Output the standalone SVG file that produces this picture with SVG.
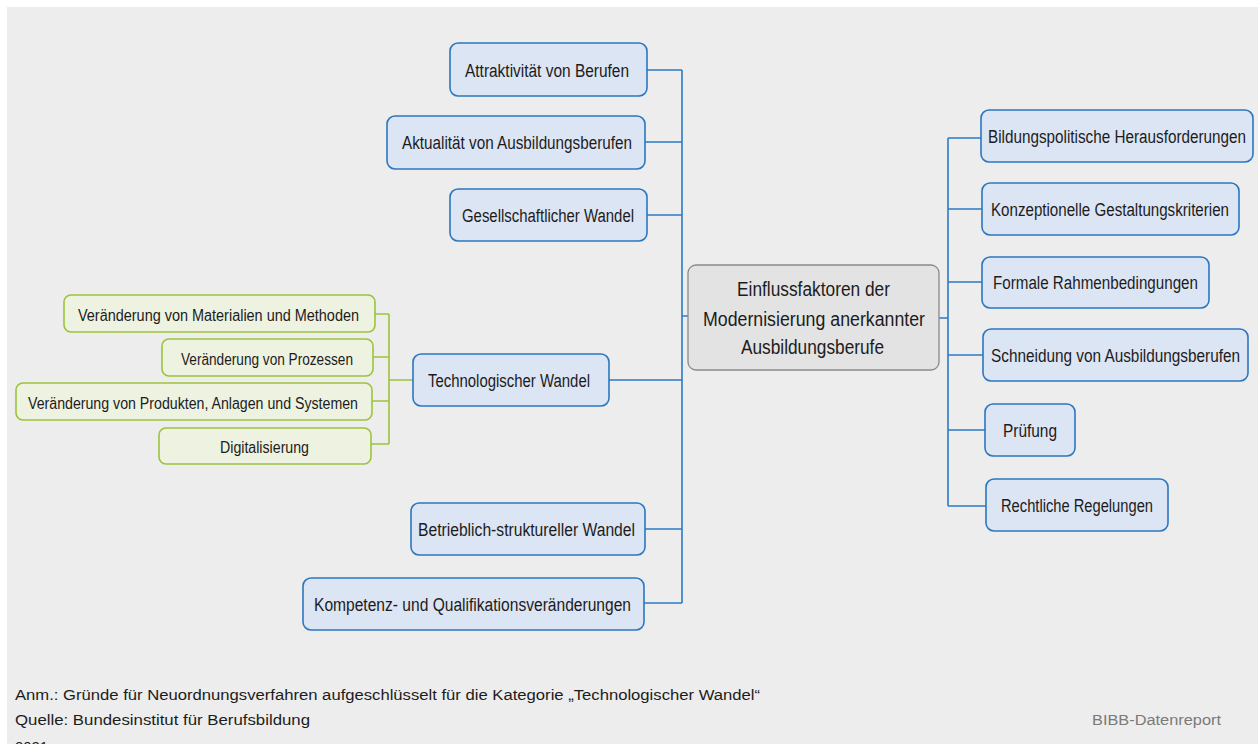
<svg xmlns="http://www.w3.org/2000/svg" width="1259" height="744" viewBox="0 0 1259 744">
  <style>
    text { font-family: "Liberation Sans", Arial, sans-serif; fill: #1c1c1c; }
    .blue rect { fill: #dce5f4; stroke: #2b77c0; stroke-width: 1.6; }
    .green rect { fill: #eef2e1; stroke: #9cc23c; stroke-width: 1.6; }
    .center rect { fill: #e3e3e3; stroke: #8a8a8a; stroke-width: 1.3; }
    .blue text { font-size: 18px; text-anchor: middle; }
    .green text { font-size: 16px; text-anchor: middle; }
    .center text { font-size: 20px; text-anchor: middle; }
    .link-blue { stroke: #2b7ac3; stroke-width: 1.6; fill: none; }
    .link-green { stroke: #9cc23c; stroke-width: 1.6; fill: none; }
    .note { font-size: 15.5px; }
  </style>

  <rect x="0" y="0" width="1259" height="744" fill="#ffffff"/>
  <rect x="7" y="7" width="1251" height="737" fill="#ededed"/>

  <!-- connectors -->
  <g id="connectors">
    <path class="link-blue" d="M647 70 H682 M645 142 H682 M647 215 H682 M609 380 H682 M645 529 H682 M644 603 H682 M682 70 V603 M682 316 H688"/>
    <path class="link-blue" d="M939 318 H948 M948 138 V506 M948 138 H981 M948 209 H982 M948 282 H982 M948 355 H983 M948 430 H985 M948 506 H986"/>
    <path class="link-green" d="M375 314 H389 M373 357 H389 M372 401 H389 M371 444 H389 M389 314 V444 M389 380 H413"/>
  </g>

  <!-- central node -->
  <g id="n-center" class="center">
    <rect x="688" y="265" width="251" height="105" rx="8"/>
    <text x="813.5" y="296" textLength="153" lengthAdjust="spacingAndGlyphs">Einflussfaktoren der</text>
    <text x="814" y="326" textLength="222" lengthAdjust="spacingAndGlyphs">Modernisierung anerkannter</text>
    <text x="812.5" y="354" textLength="143" lengthAdjust="spacingAndGlyphs">Ausbildungsberufe</text>
  </g>

  <!-- left branch -->
  <g id="n-attraktivitaet" class="blue">
    <rect x="450" y="43" width="197" height="53" rx="8"/>
    <text x="547" y="77" textLength="164" lengthAdjust="spacingAndGlyphs">Attraktivität von Berufen</text>
  </g>
  <g id="n-aktualitaet" class="blue">
    <rect x="387" y="116" width="258" height="53" rx="8"/>
    <text x="517" y="149" textLength="230" lengthAdjust="spacingAndGlyphs">Aktualität von Ausbildungsberufen</text>
  </g>
  <g id="n-gesellschaft" class="blue">
    <rect x="450" y="189" width="197" height="52" rx="8"/>
    <text x="548" y="222" textLength="172" lengthAdjust="spacingAndGlyphs">Gesellschaftlicher Wandel</text>
  </g>
  <g id="n-technologie" class="blue">
    <rect x="413" y="354" width="196" height="52" rx="8"/>
    <text x="509" y="387" textLength="162" lengthAdjust="spacingAndGlyphs">Technologischer Wandel</text>
  </g>
  <g id="n-betrieb" class="blue">
    <rect x="411" y="503" width="234" height="52" rx="8"/>
    <text x="526.5" y="536" textLength="217" lengthAdjust="spacingAndGlyphs">Betrieblich-struktureller Wandel</text>
  </g>
  <g id="n-kompetenz" class="blue">
    <rect x="303" y="578" width="341" height="52" rx="8"/>
    <text x="472.5" y="611" textLength="317" lengthAdjust="spacingAndGlyphs">Kompetenz- und Qualifikationsveränderungen</text>
  </g>

  <!-- technological sub-factors -->
  <g id="n-materialien" class="green">
    <rect x="64" y="295" width="311" height="37" rx="7"/>
    <text x="218.5" y="321" textLength="281" lengthAdjust="spacingAndGlyphs">Veränderung von Materialien und Methoden</text>
  </g>
  <g id="n-prozesse" class="green">
    <rect x="162" y="339" width="211" height="37" rx="7"/>
    <text x="267" y="365" textLength="172" lengthAdjust="spacingAndGlyphs">Veränderung von Prozessen</text>
  </g>
  <g id="n-produkte" class="green">
    <rect x="16" y="383" width="356" height="37" rx="7"/>
    <text x="193" y="409" textLength="330" lengthAdjust="spacingAndGlyphs">Veränderung von Produkten, Anlagen und Systemen</text>
  </g>
  <g id="n-digital" class="green">
    <rect x="159" y="428" width="212" height="36" rx="7"/>
    <text x="264.5" y="453" textLength="89" lengthAdjust="spacingAndGlyphs">Digitalisierung</text>
  </g>

  <!-- right branch -->
  <g id="n-bildungspolitik" class="blue">
    <rect x="981" y="110" width="272" height="52" rx="8"/>
    <text x="1117" y="143" textLength="258" lengthAdjust="spacingAndGlyphs">Bildungspolitische Herausforderungen</text>
  </g>
  <g id="n-konzeption" class="blue">
    <rect x="982" y="183" width="257" height="52" rx="8"/>
    <text x="1110" y="216" textLength="238" lengthAdjust="spacingAndGlyphs">Konzeptionelle Gestaltungskriterien</text>
  </g>
  <g id="n-rahmen" class="blue">
    <rect x="982" y="257" width="227" height="51" rx="8"/>
    <text x="1095.5" y="289" textLength="205" lengthAdjust="spacingAndGlyphs">Formale Rahmenbedingungen</text>
  </g>
  <g id="n-schneidung" class="blue">
    <rect x="983" y="329" width="265" height="52" rx="8"/>
    <text x="1115.5" y="362" textLength="249" lengthAdjust="spacingAndGlyphs">Schneidung von Ausbildungsberufen</text>
  </g>
  <g id="n-pruefung" class="blue">
    <rect x="985" y="404" width="90" height="52" rx="8"/>
    <text x="1030" y="437" textLength="54" lengthAdjust="spacingAndGlyphs">Prüfung</text>
  </g>
  <g id="n-recht" class="blue">
    <rect x="986" y="479" width="182" height="52" rx="8"/>
    <text x="1077" y="512" textLength="152" lengthAdjust="spacingAndGlyphs">Rechtliche Regelungen</text>
  </g>

  <!-- footer -->
  <text class="note" x="15" y="700" textLength="745" lengthAdjust="spacingAndGlyphs">Anm.: Gründe für Neuordnungsverfahren aufgeschlüsselt für die Kategorie „Technologischer Wandel“</text>
  <text class="note" x="15" y="725" textLength="295" lengthAdjust="spacingAndGlyphs">Quelle: Bundesinstitut für Berufsbildung</text>
  <text class="note" x="15" y="752" textLength="33" lengthAdjust="spacingAndGlyphs">2021</text>
  <text class="note" x="1092" y="725" textLength="129" lengthAdjust="spacingAndGlyphs" style="fill:#7a7a7a">BIBB-Datenreport</text>
</svg>
